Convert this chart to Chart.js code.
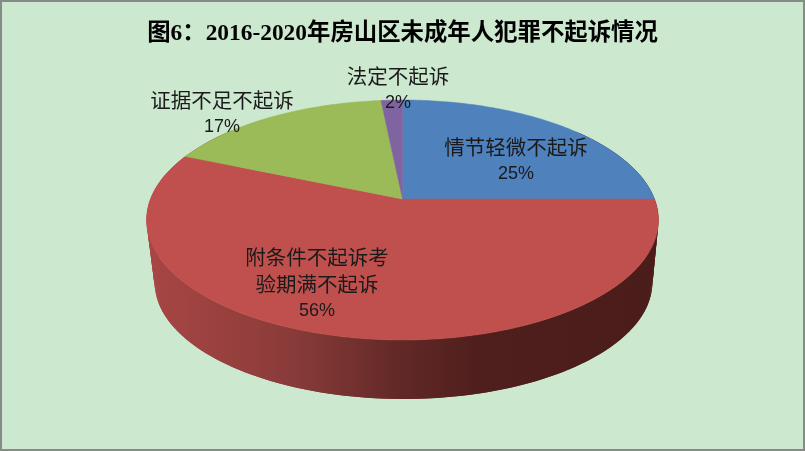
<!DOCTYPE html>
<html>
<head>
<meta charset="utf-8">
<style>
  html, body { margin: 0; padding: 0; background: #cce8cf; }
  #wrap { position: relative; width: 805px; height: 451px; }
</style>
<script src="https://cdn.jsdelivr.net/npm/chart.js@4/dist/chart.umd.js"></script>
</head>
<body>
<div id="wrap"><canvas id="pie"></canvas></div>
<script>
const titleText = '图6：2016-2020年房山区未成年人犯罪不起诉情况';
const categories = ['情节轻微不起诉', '附条件不起诉考验期满不起诉', '证据不足不起诉', '法定不起诉'];
const shares = [25.0, 56.4, 17.0, 1.6];
const sliceColors = ['#4f81bd', '#c0504d', '#9bbb59', '#8064a2'];

// label centres, one per category: [x, y of each text line]
const labelSpots = [
  { x: 516, ys: [147, 174] },
  { x: 317, ys: [257, 284, 311] },
  { x: 222, ys: [100, 127] },
  { x: 398, ys: [76, 103] }
];

const cjkFont = '20.5px "Noto Sans CJK SC"';
const pctFont = '18px "Liberation Sans"';

// the disc is tipped back, so circles go through a perspective squeeze
const tilt = 0.175;
const topDisc = { dx: 0, cy: 199, a: 252, b: 116.3 };
const baseDisc = { dx: 1, cy: 262, a: 245, b: 113 };

function project(cx, disc, angle) {
  const u = Math.cos(angle), v = Math.sin(angle);
  const w = 1 - tilt * v;
  return [cx + disc.dx + disc.a * u / w, disc.cy + disc.b * v / w];
}

function drawWall(ctx, cx) {
  const grad = ctx.createLinearGradient(147, 0, 658, 0);
  grad.addColorStop(0, '#a84644');
  grad.addColorStop(0.2, '#933f3d');
  grad.addColorStop(0.3, '#863a38');
  grad.addColorStop(0.5, '#612826');
  grad.addColorStop(0.65, '#4f1f1d');
  grad.addColorStop(1, '#4a1c1a');
  ctx.fillStyle = grad;
  const first = -0.7, last = Math.PI + 0.7, steps = 240;
  // overlapping quads between the two rims, gradient runs on x so no seams show
  for (let i = 0; i < steps; i++) {
    const t0 = first + (last - first) * i / steps;
    const t1 = first + (last - first) * (i + 2) / steps;
    const a = project(cx, topDisc, t0), b = project(cx, topDisc, t1);
    const c = project(cx, baseDisc, t1), d = project(cx, baseDisc, t0);
    ctx.beginPath();
    ctx.moveTo(a[0], a[1]);
    ctx.lineTo(b[0], b[1]);
    ctx.lineTo(c[0], c[1]);
    ctx.lineTo(d[0], d[1]);
    ctx.closePath();
    ctx.fill();
  }
}

function drawSlice(ctx, arc, color) {
  const apex = [arc.x, topDisc.cy];
  const steps = Math.max(4, Math.ceil((arc.endAngle - arc.startAngle) * 60));
  ctx.beginPath();
  ctx.moveTo(apex[0], apex[1]);
  for (let i = 0; i <= steps; i++) {
    const t = arc.startAngle + (arc.endAngle - arc.startAngle) * i / steps;
    const p = project(arc.x, topDisc, t);
    ctx.lineTo(p[0], p[1]);
  }
  ctx.closePath();
  ctx.fillStyle = color;
  ctx.fill();
  ctx.strokeStyle = color;
  ctx.lineWidth = 0.5;
  ctx.stroke();
}

const frame = {
  id: 'frame',
  beforeDraw(chart) {
    const ctx = chart.ctx;
    ctx.save();
    ctx.fillStyle = '#cce8cf';
    ctx.fillRect(0, 0, chart.width, chart.height);
    ctx.strokeStyle = '#868b86';
    ctx.lineWidth = 2;
    ctx.strokeRect(1, 1, chart.width - 2, chart.height - 2);
    ctx.restore();
  }
};

const pie3d = {
  id: 'pie3d',
  beforeDatasetsDraw(chart) {
    const ctx = chart.ctx;
    const arcs = chart.getDatasetMeta(0).data;
    ctx.save();
    drawWall(ctx, arcs[0].x);
    arcs.forEach((arc, i) => drawSlice(ctx, arc, sliceColors[i]));
    ctx.restore();
    return false;
  },
  afterDraw(chart) {
    const ctx = chart.ctx;
    const total = shares.reduce((s, v) => s + v, 0);
    ctx.save();
    ctx.textAlign = 'center';
    ctx.textBaseline = 'middle';
    ctx.fillStyle = '#1a1a1a';
    categories.forEach((name, i) => {
      const spot = labelSpots[i];
      const lines = [];
      for (let c = 0; c < name.length; c += 7) lines.push(name.slice(c, c + 7));
      lines.forEach((line, k) => {
        ctx.font = cjkFont;
        ctx.fillText(line, spot.x, spot.ys[k]);
      });
      ctx.font = pctFont;
      ctx.fillText(Math.round(shares[i] / total * 100) + '%', spot.x, spot.ys[lines.length]);
    });
    ctx.restore();
  }
};

new Chart(document.getElementById('pie'), {
  type: 'pie',
  data: {
    labels: categories,
    datasets: [{ data: shares, backgroundColor: sliceColors, borderWidth: 0 }]
  },
  options: {
    responsive: true,
    maintainAspectRatio: false,
    animation: false,
    plugins: {
      legend: { display: false },
      tooltip: { enabled: false },
      title: {
        display: true,
        text: titleText,
        color: '#000',
        font: { family: '"Liberation Serif", "Noto Sans CJK SC"', size: 23.4, weight: 'bold' },
        padding: { top: 20, bottom: 10 }
      }
    }
  },
  plugins: [frame, pie3d]
});
</script>
</body>
</html>
